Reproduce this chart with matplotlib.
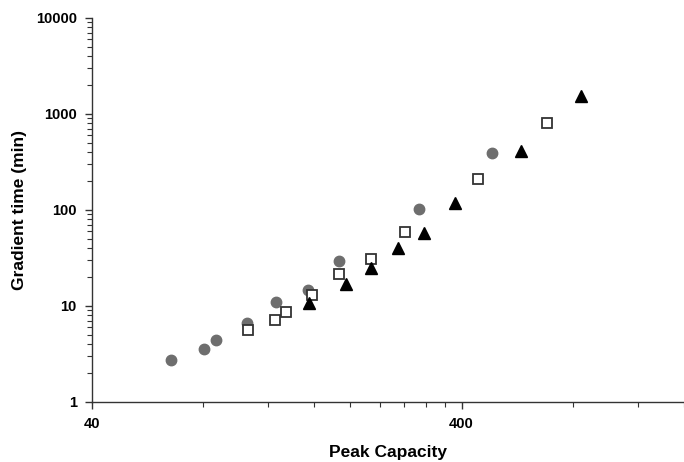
import matplotlib
matplotlib.use('Agg')
import matplotlib.pyplot as plt
from matplotlib.ticker import FixedLocator, NullFormatter, FixedFormatter

plt.rcParams['font.family'] = ['Liberation Sans', 'DejaVu Sans']
plt.rcParams['font.weight'] = 'bold'

# data (peak capacity, gradient time in min)
circ_pc = [65.4, 80.3, 86.6, 105, 125.7, 153.4, 186, 306, 485]
circ_tg = [2.74, 3.57, 4.42, 6.65, 11.0, 14.7, 29.4, 102, 392]

sq_pc = [105.6, 125, 133.8, 157.3, 186, 227, 282, 444, 683]
sq_tg = [5.62, 7.15, 8.66, 13.0, 21.5, 30.9, 59, 210, 806]

tri_pc = [154.4, 194.3, 227, 270, 315.8, 385, 581, 844]
tri_tg = [10.7, 16.9, 24.9, 40.2, 57.6, 118, 412, 1540]

x_major = [40, 400]
x_minor = [40 * k for k in range(2, 10)] + [400 * k for k in range(2, 5)]
y_major = [1, 10, 100, 1000, 10000]
y_minor = [m * k for m in [1, 10, 100, 1000] for k in range(2, 10)]

fig = plt.figure(figsize=(6.84, 4.62), dpi=100)
ax = fig.add_axes([0.1345, 0.1299, 0.8655, 0.8312])

ax.plot(circ_pc, circ_tg, 'o', color='#6e6e6e', ms=7.5, mec='#6e6e6e', clip_on=False)
ax.plot(sq_pc, sq_tg, 's', mfc='white', mec='#333333', mew=1.3, ms=7.5, clip_on=False)
ax.plot(tri_pc, tri_tg, '^', color='black', ms=8, clip_on=False)

ax.set_xscale('log')
ax.set_yscale('log')
ax.set_xlim(40, 1600)
ax.set_ylim(1, 10000)

ax.xaxis.set_major_locator(FixedLocator(x_major))
ax.xaxis.set_major_formatter(FixedFormatter([str(v) for v in x_major]))
ax.xaxis.set_minor_locator(FixedLocator(x_minor))
ax.xaxis.set_minor_formatter(NullFormatter())
ax.yaxis.set_major_locator(FixedLocator(y_major))
ax.yaxis.set_major_formatter(FixedFormatter([str(v) for v in y_major]))
ax.yaxis.set_minor_locator(FixedLocator(y_minor))
ax.yaxis.set_minor_formatter(NullFormatter())

ax.tick_params(which='major', direction='out', length=5, width=1, color='#333333',
               labelsize=10.5, pad=6)
ax.tick_params(which='minor', direction='out', length=3.5, width=0.8, color='#333333')

ax.spines['top'].set_visible(False)
ax.spines['right'].set_visible(False)
for s in ['left', 'bottom']:
    ax.spines[s].set_color('#333333')
    ax.spines[s].set_linewidth(1)

ax.set_xlabel('Peak Capacity', fontsize=12.5, fontweight='bold', labelpad=10)
ax.set_ylabel('Gradient time (min)', fontsize=12.5, fontweight='bold', labelpad=6)

fig.savefig('out.png', dpi=100)
